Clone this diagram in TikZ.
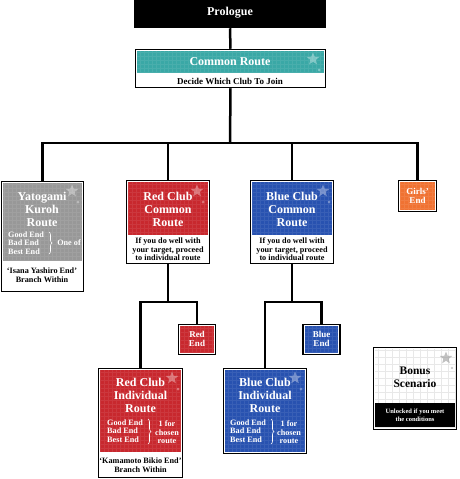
\documentclass[tikz,border=0pt]{standalone}
\usepackage{fontspec}
\setmainfont{Liberation Serif}
\usetikzlibrary{shapes.geometric,decorations.pathreplacing}

\definecolor{clubteal}{RGB}{58,168,166}
\definecolor{clubred}{RGB}{200,40,46}
\definecolor{clubblue}{RGB}{40,82,176}
\definecolor{clubgrey}{RGB}{152,152,152}
\definecolor{cluborange}{RGB}{240,114,50}

\tikzset{
  box/.style={draw=black, line width=1.5pt, fill=white, inner sep=0pt},
  title/.style={text=white, font=\fontsize{12}{13}\selectfont\bfseries, align=center},
  note/.style={font=\fontsize{8.2}{8.5}\selectfont\bfseries, align=center, inner sep=0pt},
  ends/.style={note, text=white, align=left},
  label/.style={note, text=white, font=\fontsize{9}{9}\selectfont\bfseries},
  link/.style={line width=2.5pt},
  curly/.style={white, line width=.6pt, decorate, decoration={brace, amplitude=3pt}},
  mesh/.style={white, opacity=.08, line width=.3pt, step=4pt},
  deco/.style={star, star points=5, star point ratio=2.3, fill=white, opacity=.35,
               minimum size=13pt, inner sep=0pt},
}

\begin{document}
\begin{tikzpicture}[x=1pt, y=-1pt]
\useasboundingbox (0,0) rectangle (459,479);

% frames
\node[box, fill=black, minimum width=191pt, minimum height=27pt] (prologue) at (230  ,14  ) {};
\node[box, minimum width=190pt, minimum height=38pt]  (common) at (230.5, 68.5) {};
\node[box, minimum width=82pt,  minimum height=110pt] (yato)   at ( 42.5,236.5) {};
\node[box, minimum width=83pt,  minimum height=83pt]  (redc)   at (168  ,222  ) {};
\node[box, minimum width=83pt,  minimum height=83pt]  (bluec)  at (292  ,222  ) {};
\node[box, minimum width=38pt,  minimum height=31pt]  (girls)  at (417.5,196  ) {};
\node[box, minimum width=37pt,  minimum height=30pt]  (rede)   at (197  ,339.5) {};
\node[box, minimum width=84pt,  minimum height=109pt] (redi)   at (140.5,423  ) {};
\node[box, minimum width=37pt,  minimum height=30pt]  (bluee)  at (321.5,339.5) {};
\node[box, minimum width=83pt,  minimum height=85pt]  (bluei)  at (265  ,411  ) {};
\node[box, minimum width=83pt,  minimum height=82pt]  (bonus)  at (415  ,388.5) {};

% coloured panels
\foreach \xa/\ya/\xb/\yb/\col in {137/51/324/73/clubteal, 3/183/82/261/clubgrey,
    128/182/208/235/clubred, 252/182/332/235/clubblue, 400/182/435/210/cluborange,
    180/326/214/353/clubred, 305/326/338/353/clubblue,
    100/370/181/452/clubred, 225/370/305/452/clubblue}
{
  \fill[\col] (\xa,\ya) rectangle (\xb,\yb);
  \draw[mesh] (\xa,\ya) grid (\xb,\yb);
}
\draw[black!9, line width=.3pt, step=7pt] (375,349) grid (455,428);
\fill[black] (375,403) rectangle (455,427);

% stars
\foreach \sx/\sy [count=\i] in {313/59, 72/191, 197/191, 323/191, 172/378, 295/378}
{
  \node[deco] (star\i) at (\sx,\sy) {};
  \fill[white, opacity=.35] (\sx+6,\sy+11) circle (1.5);
}
\node[deco, fill=black!40, opacity=.6] (starb) at (446,358) {};
\fill[black!25] (452,368) circle (1.2);

% texts
\node[title] (t-prologue) at (230,13)  {Prologue};
\node[title] (t-common)   at (230,62)  {Common Route};
\node[note, font=\fontsize{9}{9}\selectfont\bfseries] (n-common) at (230,81) {Decide Which Club To Join};

\node[title] (t-yato)  at ( 42,209) {Yatogami\\Kuroh\\Route};
\node[ends, anchor=west] (e-yato) at (8,243) {Good End\\Bad End\\Best End};
\draw[curly] (49,232) -- (49,254);
\node[note, text=white] (o-yato) at (69,243) {One of};
\node[note] (n-yato) at (42,275) {`Isana Yashiro End'\\Branch Within};

\node[title] (t-redc)  at (168,209) {Red Club\\Common\\Route};
\node[note]  (n-redc)  at (168,249.5) {If you do well with\\your target, proceed\\to individual route};
\node[title] (t-bluec) at (292,209) {Blue Club\\Common\\Route};
\node[note]  (n-bluec) at (292,249.5) {If you do well with\\your target, proceed\\to individual route};

\node[label] (t-girls) at (417.5,196) {Girls'\\End};
\node[label] (t-rede)  at (197,339)   {Red\\End};
\node[label] (t-bluee) at (321.5,339) {Blue\\End};

\node[title] (t-redi) at (140.5,395) {Red Club\\Individual\\Route};
\node[ends, anchor=west] (e-redi) at (107,431) {Good End\\Bad End\\Best End};
\draw[curly] (148,419) -- (148,444);
\node[note, text=white] (o-redi) at (167,432.5) {1 for\\chosen\\route};
\node[note] (n-redi) at (140.5,465) {`Kamamoto Bikio End'\\Branch Within};

\node[title] (t-bluei) at (265,395) {Blue Club\\Individual\\Route};
\node[ends, anchor=west] (e-bluei) at (230,431) {Good End\\Bad End\\Best End};
\draw[curly] (271,419) -- (271,444);
\node[note, text=white] (o-bluei) at (289,432.5) {1 for\\chosen\\route};

\node[title, text=black, font=\fontsize{11.5}{13}\selectfont\bfseries] (t-bonus) at (415,377) {Bonus\\Scenario};
\node[note, text=white, font=\fontsize{6.5}{7.5}\selectfont\bfseries] (n-bonus) at (415,415) {Unlocked if you meet\\the conditions};

% connectors
\coordinate (hub)   at (230,143);
\coordinate (redhub)  at (redc.south  |- 0,302);
\coordinate (bluehub) at (bluec.south |- 0,302);
\draw[link] (prologue.south) -- (common.north);
\draw[link] (common.south) -- (hub);
\draw[link] (yato.north) |- (hub) -| (girls.north);
\draw[link] (redc.north)  -- (redc.north  |- hub);
\draw[link] (bluec.north) -- (bluec.north |- hub);
\draw[link] (redc.south) -- (redhub);
\draw[link] (redi.north) |- (redhub) -| (rede.north);
\draw[link] (bluec.south) -- (bluehub);
\draw[link] (bluei.north) |- (bluehub) -| (bluee.north);
\end{tikzpicture}
\end{document}
